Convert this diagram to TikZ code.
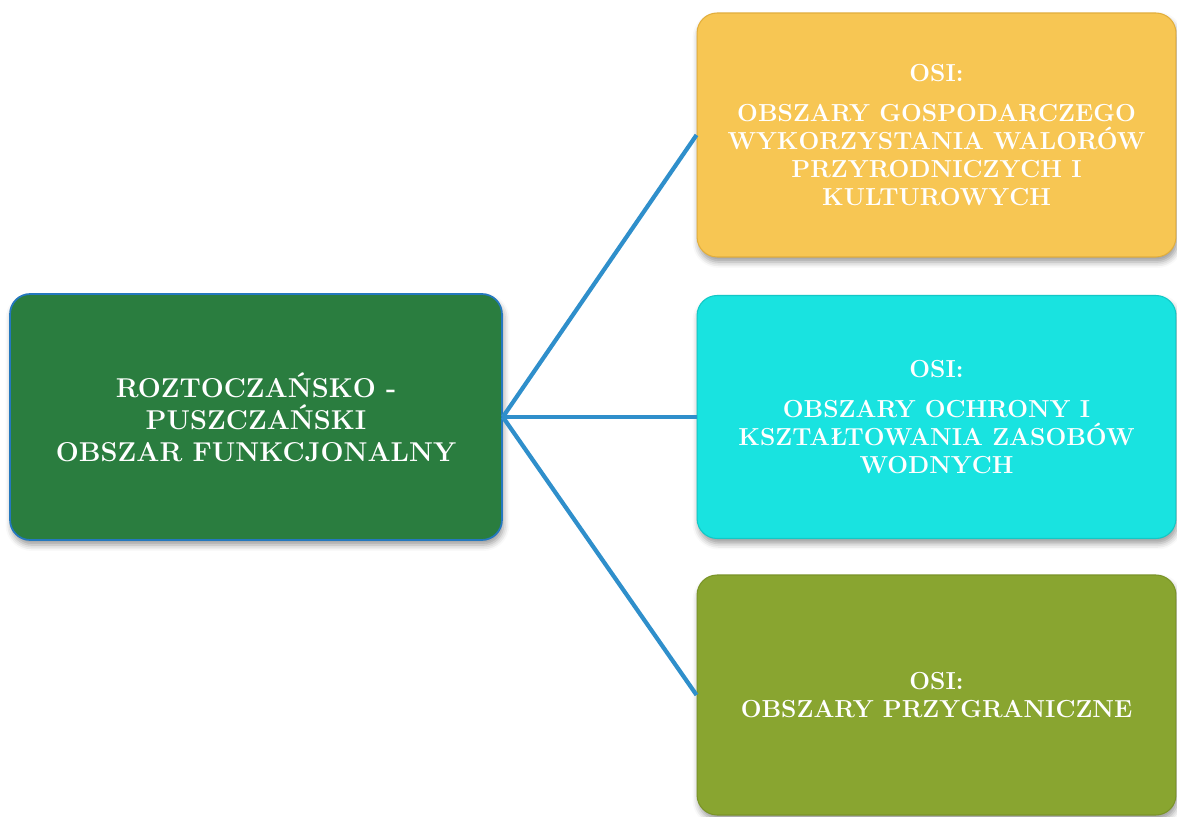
\documentclass[tikz,border=0pt]{standalone}
\usetikzlibrary{shadows.blur}
\definecolor{mainGreen}{HTML}{2A7D3F}
\definecolor{mainBorder}{HTML}{2478BE}
\definecolor{boxYellow}{HTML}{F7C653}
\definecolor{boxYellowB}{HTML}{E2AE3C}
\definecolor{boxCyan}{HTML}{19E3E0}
\definecolor{boxCyanB}{HTML}{12C8C6}
\definecolor{boxOlive}{HTML}{89A530}
\definecolor{boxOliveB}{HTML}{7A9428}
\definecolor{linkBlue}{HTML}{2F8FCB}
\tikzset{
  areabox/.style={rounded corners=0.4cm, line width=0.6pt, align=center,
    text=white, font=\bfseries,
    blur shadow={shadow xshift=0.03cm, shadow yshift=-0.1cm, shadow blur radius=0.12cm, shadow opacity=40}},
  link/.style={draw=linkBlue, line width=2.4pt}
}
\begin{document}
\begin{tikzpicture}[x=0.02cm,y=-0.02cm]
\useasboundingbox (0,0) rectangle (1177,817);
\node[areabox, fill=mainGreen, draw=mainBorder, line width=1pt,
      minimum width=9.84cm, minimum height=4.92cm,
      font=\fontsize{15.5}{18.2}\selectfont\bfseries] (main) at (256,417)
  {ROZTOCZAŃSKO -\\PUSZCZAŃSKI\\OBSZAR FUNKCJONALNY};
\node[areabox, fill=boxYellow, draw=boxYellowB,
      minimum width=9.58cm, minimum height=4.88cm,
      font=\fontsize{14}{15.9}\selectfont\bfseries] (top) at (936.5,135)
  {OSI:\\[0.24cm]OBSZARY GOSPODARCZEGO\\WYKORZYSTANIA WALORÓW\\PRZYRODNICZYCH I\\KULTUROWYCH};
\node[areabox, fill=boxCyan, draw=boxCyanB,
      minimum width=9.58cm, minimum height=4.86cm,
      font=\fontsize{14}{15.9}\selectfont\bfseries] (mid) at (936.5,417)
  {OSI:\\[0.24cm]OBSZARY OCHRONY I\\KSZTAŁTOWANIA ZASOBÓW\\WODNYCH};
\node[areabox, fill=boxOlive, draw=boxOliveB,
      minimum width=9.58cm, minimum height=4.8cm,
      font=\fontsize{14}{15.9}\selectfont\bfseries] (bot) at (936.5,695)
  {OSI:\\OBSZARY PRZYGRANICZNE};
\draw[link] (main.east) -- (top.west);
\draw[link] (main.east) -- (mid.west);
\draw[link] (main.east) -- (bot.west);
\end{tikzpicture}
\end{document}
